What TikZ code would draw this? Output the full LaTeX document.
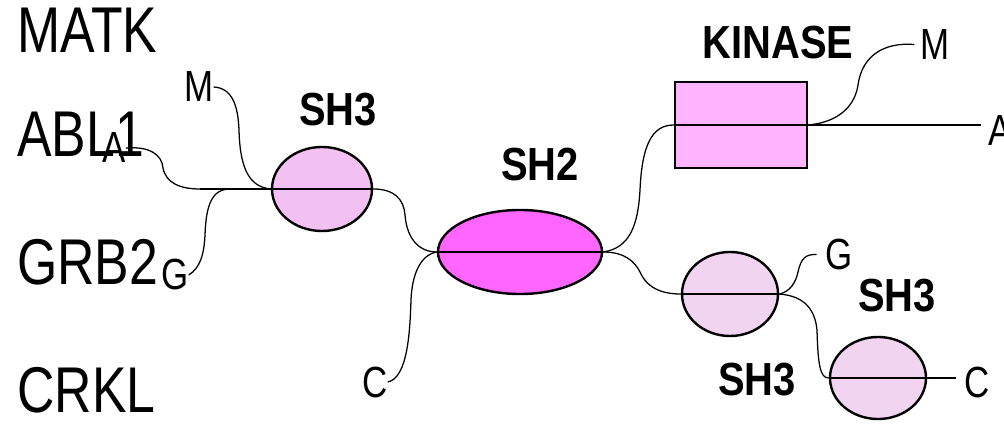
\documentclass[tikz,border=0pt]{standalone}
\usepackage{fontspec}
\setmainfont{Liberation Sans}[FakeStretch=0.8, BoldFeatures={FakeStretch=0.86}]
\usetikzlibrary{shapes.geometric}
\usetikzlibrary{positioning}
\definecolor{shthree}{RGB}{242,192,242}
\definecolor{shthreelt}{RGB}{240,212,240}
\definecolor{shtwo}{RGB}{255,102,255}
\definecolor{kinfill}{RGB}{255,180,255}

\begin{document}
\begin{tikzpicture}[x=0.025cm, y=-0.025cm,
  dom/.style={draw, line width=1.7pt, ellipse, inner sep=0pt},
  chain/.style={line width=2pt},
  link/.style={line width=0.9pt},
  gene/.style={anchor=base west, inner sep=0pt, font=\fontsize{46}{46}\selectfont},
  tag/.style={anchor=base west, inner sep=0pt, font=\fontsize{31}{31}\selectfont},
  dlab/.style={inner sep=0pt, font=\bfseries\fontsize{33}{33}\selectfont}]

\useasboundingbox (0,0) rectangle (1004,425);

%---------------------------------------
% Gene names
%---------------------------------------
\node[gene] (matk) at (17,53)  {MATK};
\node[gene] (abl)  at (17,157) {ABL1};
\node[gene] (grb)  at (17,285) {GRB2};
\node[gene] (crkl) at (17,412) {CRKL};

%---------------------------------------
% Domains
%---------------------------------------
\node[dom, fill=shthree, minimum width=2.5cm, minimum height=2.1cm] (sh3a) at (322,189) {};
\node[dom, fill=shtwo, minimum width=4.1cm, minimum height=2.1cm] (sh2) at (520,252) {};
\node[draw, line width=1.7pt, fill=kinfill, inner sep=0pt,
      minimum width=3.3cm, minimum height=2.15cm] (kin) at (741,125) {};
\node[dom, fill=shthreelt, minimum width=2.4cm, minimum height=2.1cm] (sh3b) at (730,294) {};
\node[dom, fill=shthreelt, minimum width=2.4cm, minimum height=2.05cm] (sh3c) at (878,378) {};

\node[dlab] (lsh3a) at (338,110) {SH3};
\node[dlab] (lsh2)  at (540,165) {SH2};
\node[dlab] (lkin)  at (778,43)  {KINASE};
\node[dlab] (lsh3b) at (897,296) {SH3};
\node[dlab] (lsh3c) at (757,380) {SH3};

%---------------------------------------
% Partner ends
%---------------------------------------
\node[tag] (mL) at (184,102) {M};
\node[tag] (aL) at (102,163) {A};
\node[tag] (gL) at (161,290) {G};
\node[tag] (cL) at (362,397) {C};
\node[tag] (mR) at (920,60)  {M};
\node[tag] (aR) at (988,146) {A};
\node[tag] (gR) at (825,270) {G};
\node[tag] (cR) at (964,397) {C};

\coordinate (jA) at (200,189);
\coordinate (jG) at (230,189);

%---------------------------------------
% Left part: SH3 and joins
%---------------------------------------
\draw[link] (aL.east) .. controls (150,146) and (162,155) .. (163,168)
            .. controls (166,183) and (180,189) .. (jA);
\draw[link] (gL.east) .. controls (200,268) and (204,255) .. (205,235)
            .. controls (206,205) and (212,189) .. (jG);
\draw[link] (mL.east) .. controls (232,88) and (238,105) .. (239,130)
            .. controls (240,170) and (250,187) .. (sh3a.west);
\draw[chain] (jA) -- (sh3a.east);

%---------------------------------------
% SH2
%---------------------------------------
\draw[link] (sh3a.east) .. controls (395,189) and (404,200) .. (405,215)
            .. controls (407,240) and (420,252) .. (sh2.west);
\draw[link] (sh2.west) .. controls (420,255) and (412,275) .. (411,300)
            .. controls (410,330) and (408,378) .. (cL.east);
\draw[chain] (sh2.west) -- (sh2.east);

%---------------------------------------
% Kinase
%---------------------------------------
\draw[link] (sh2.east) .. controls (630,248) and (638,225) .. (640,190)
            .. controls (642,145) and (652,125) .. (kin.west);
\draw[chain, shorten >=5pt] (kin.west) -- (aR.west |- kin.east);
\draw[link, shorten >=4pt] (kin.east) .. controls (840,122) and (855,105) .. (858,85)
            .. controls (862,55) and (885,42) .. (mR.west);

%---------------------------------------
% Lower SH3 pair
%---------------------------------------
\draw[link] (sh2.east) .. controls (625,252) and (635,262) .. (640,272)
            .. controls (648,290) and (665,294) .. (sh3b.west);
\draw[chain] (sh3b.west) -- (sh3b.east);
\draw[link, shorten >=6pt] (sh3b.east) .. controls (790,292) and (796,282) .. (798,272)
            .. controls (801,258) and (806,254) .. (gR.west);
\draw[link] (sh3b.east) .. controls (805,296) and (815,310) .. (817,330)
            .. controls (818,365) and (820,378) .. (sh3c.west);
\draw[chain, shorten >=6pt] (sh3c.west) -- (cR.west |- sh3c.east);

\end{tikzpicture}
\end{document}
